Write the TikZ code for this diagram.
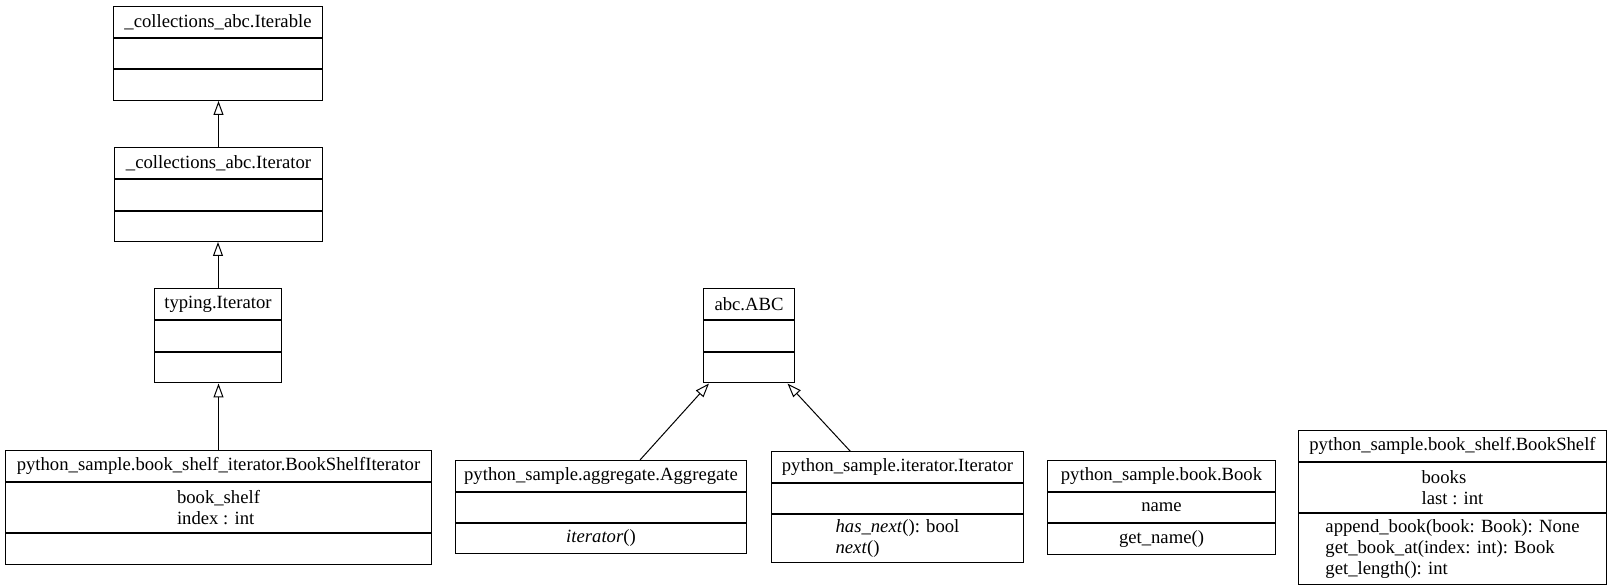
\documentclass[tikz,border=0pt]{standalone}
\usepackage{fontspec}
\setmainfont{Liberation Serif}
\usetikzlibrary{positioning,arrows.meta}
\begin{document}
\begin{tikzpicture}[x=1pt, y=1pt, line width=1pt,
  box/.style={draw, inner sep=0pt, align=left, font=\fontsize{18.67}{21}\selectfont},
  inherit/.style={-{Triangle[open, length=14pt, width=10pt]}}]
  \useasboundingbox (0,0) rectangle (1613,588);
  % _collections_abc.Iterable
  \node[box, anchor=north west, minimum width=209pt, minimum height=31pt] (itbl) at (113,582) {\_collections\_abc.Iterable};
  \node[box, below=0pt of itbl, minimum width=209pt, minimum height=30.5pt] (itbl-a) {};
  \node[box, below=0pt of itbl-a, minimum width=209pt, minimum height=30.5pt] (itbl-m) {};
  % _collections_abc.Iterator
  \node[box, anchor=north west, minimum width=208pt, minimum height=31pt] (citr) at (114,441) {\_collections\_abc.Iterator};
  \node[box, below=0pt of citr, minimum width=208pt, minimum height=31pt] (citr-a) {};
  \node[box, below=0pt of citr-a, minimum width=208pt, minimum height=30pt] (citr-m) {};
  % typing.Iterator
  \node[box, anchor=north west, minimum width=127pt, minimum height=31pt] (titr) at (154,299.5) {typing.Iterator};
  \node[box, below=0pt of titr, minimum width=127pt, minimum height=31pt] (titr-a) {};
  \node[box, below=0pt of titr-a, minimum width=127pt, minimum height=30pt] (titr-m) {};
  % BookShelfIterator
  \node[box, anchor=north west, minimum width=426pt, minimum height=31pt] (bsi) at (5,138) {python\_sample.book\_shelf\_iterator.BookShelfIterator};
  \node[box, below=0pt of bsi, minimum width=426pt, minimum height=50pt] (bsi-a) {book\_shelf\\index : int};
  \node[box, below=0pt of bsi-a, minimum width=426pt, minimum height=31pt] (bsi-m) {};
  % abc.ABC
  \node[box, anchor=north west, minimum width=91pt, minimum height=31pt] (abc) at (703,299.5) {abc.ABC};
  \node[box, below=0pt of abc, minimum width=91pt, minimum height=31pt] (abc-a) {};
  \node[box, below=0pt of abc-a, minimum width=91pt, minimum height=30pt] (abc-m) {};
  % Aggregate
  \node[box, anchor=north west, minimum width=291pt, minimum height=31pt] (agg) at (455,128) {python\_sample.aggregate.Aggregate};
  \node[box, below=0pt of agg, minimum width=291pt, minimum height=30pt] (agg-a) {};
  \node[box, below=0pt of agg-a, minimum width=291pt, minimum height=30pt] (agg-m) {\textit{iterator}()};
  % Iterator
  \node[box, anchor=north west, minimum width=252pt, minimum height=30.5pt] (pitr) at (771,136.5) {python\_sample.iterator.Iterator};
  \node[box, below=0pt of pitr, minimum width=252pt, minimum height=30.5pt] (pitr-a) {};
  \node[box, below=0pt of pitr-a, minimum width=252pt, minimum height=47.5pt] (pitr-m) {\textit{has\_next}(): bool\\\textit{next}()};
  % Book
  \node[box, anchor=north west, minimum width=228pt, minimum height=31pt] (book) at (1047,128) {python\_sample.book.Book};
  \node[box, below=0pt of book, minimum width=228pt, minimum height=30pt] (book-a) {name};
  \node[box, below=0pt of book-a, minimum width=228pt, minimum height=31pt] (book-m) {get\_name()};
  % BookShelf
  \node[box, anchor=north west, minimum width=308pt, minimum height=31pt] (shelf) at (1298,158) {python\_sample.book\_shelf.BookShelf};
  \node[box, below=0pt of shelf, minimum width=308pt, minimum height=50pt] (shelf-a) {books\\last : int};
  \node[box, below=0pt of shelf-a, minimum width=308pt, minimum height=71pt] (shelf-m) {append\_book(book: Book): None\\get\_book\_at(index: int): Book\\get\_length(): int};
  % inheritance
  \draw[inherit] (citr.north) -- (citr.north |- itbl-m.south);
  \draw[inherit] (titr.north) -- (titr.north |- citr-m.south);
  \draw[inherit] (bsi.north) -- (bsi.north |- titr-m.south);
  \draw[inherit] ([xshift=39pt]agg.north) -- ([xshift=-40pt]abc-m.south);
  \draw[inherit] ([xshift=-47pt]pitr.north) -- ([xshift=38.5pt]abc-m.south);
\end{tikzpicture}
\end{document}
